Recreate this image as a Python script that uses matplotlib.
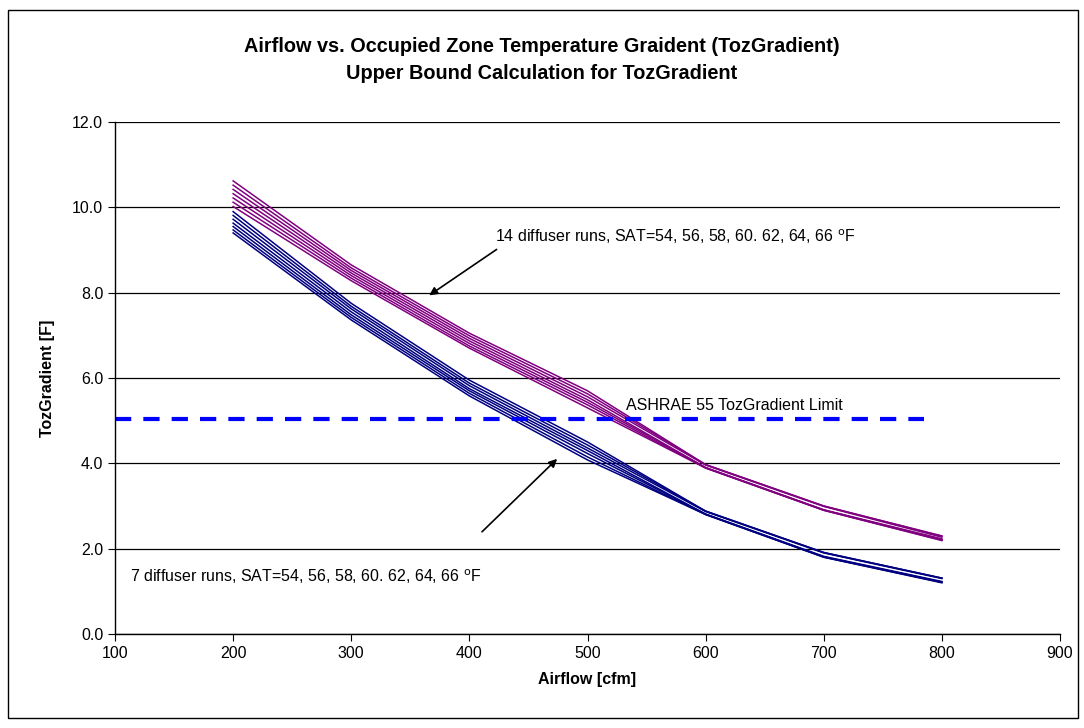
import matplotlib
matplotlib.use("Agg")
import matplotlib.pyplot as plt
from matplotlib.patches import Rectangle

plt.rcParams['font.family'] = ['Liberation Sans', 'DejaVu Sans']

airflow = [200, 300, 400, 500, 600, 700, 800]

# 14 diffuser runs (purple), 7 SAT values
purple_runs = [
    [10.62, 8.65, 7.05, 5.70, 3.97, 3.00, 2.30],
    [10.52, 8.58, 6.99, 5.63, 3.97, 3.00, 2.29],
    [10.42, 8.52, 6.93, 5.56, 3.96, 2.99, 2.27],
    [10.32, 8.46, 6.87, 5.49, 3.90, 2.91, 2.23],
    [10.22, 8.40, 6.81, 5.43, 3.90, 2.91, 2.21],
    [10.12, 8.34, 6.75, 5.37, 3.89, 2.90, 2.20],
    [10.02, 8.28, 6.70, 5.30, 3.89, 2.90, 2.19],
]
# 7 diffuser runs (navy), 7 SAT values
blue_runs = [
    [9.90, 7.75, 5.95, 4.50, 2.88, 1.91, 1.31],
    [9.81, 7.68, 5.88, 4.43, 2.88, 1.91, 1.31],
    [9.72, 7.62, 5.82, 4.36, 2.87, 1.90, 1.30],
    [9.63, 7.55, 5.75, 4.30, 2.81, 1.82, 1.23],
    [9.55, 7.48, 5.70, 4.23, 2.81, 1.81, 1.22],
    [9.47, 7.42, 5.64, 4.15, 2.80, 1.80, 1.21],
    [9.40, 7.36, 5.58, 4.08, 2.80, 1.80, 1.20],
]
limit_x = [100, 785]
limit_y = [5.05, 5.05]

x_ticks = [100, 200, 300, 400, 500, 600, 700, 800, 900]
y_ticks = [0, 2, 4, 6, 8, 10, 12]

fig = plt.figure(figsize=(10.84, 7.28), dpi=100)
fig.patches.append(Rectangle((8/1084, 1-718/728), 1070/1084, 708/728,
                             transform=fig.transFigure, fill=False,
                             edgecolor='black', linewidth=1.0))
ax = fig.add_axes([115/1084, 1-634/728, 945/1084, 512/728])

for run in purple_runs:
    ax.plot(airflow, run, color='#800080', linewidth=1.1)
for run in blue_runs:
    ax.plot(airflow, run, color='#000080', linewidth=1.1)
ax.plot(limit_x, limit_y, color='#0000FF', linewidth=3, linestyle=(0, (3.9, 2.9)))

ax.set_xlim(100, 900)
ax.set_ylim(0, 12)
ax.set_xticks(x_ticks)
ax.set_yticks(y_ticks)
ax.set_yticklabels([f"{v:.1f}" for v in y_ticks])
ax.tick_params(direction='out', length=5, labelsize=11.5, color='black')
ax.yaxis.grid(True, color='black', linewidth=0.9)
ax.set_axisbelow(True)
for s in ['top', 'right']:
    ax.spines[s].set_visible(False)
for s in ['left', 'bottom']:
    ax.spines[s].set_color('black')
    ax.spines[s].set_linewidth(1.0)

ax.set_xlabel('Airflow [cfm]', fontsize=11.5, fontweight='bold', labelpad=8)
ax.set_ylabel('TozGradient [F]', fontsize=11.5, fontweight='bold', labelpad=12)

fig.text(0.5, 1-60/728, 'Airflow vs. Occupied Zone Temperature Graident (TozGradient)\nUpper Bound Calculation for TozGradient',
         ha='center', va='center', fontsize=14.3, fontweight='bold', linespacing=1.55)

ax.text(422, 9.3, r'14 diffuser runs, SAT=54, 56, 58, 60. 62, 64, 66 $^{\mathrm{o}}$F',
        fontsize=11.5, va='center', ha='left')
ax.annotate('', xy=(364, 7.9), xytext=(425, 9.05),
            arrowprops=dict(arrowstyle='-|>', color='black', lw=1.2, mutation_scale=12))
ax.text(113, 1.34, r'7 diffuser runs, SAT=54, 56, 58, 60. 62, 64, 66 $^{\mathrm{o}}$F',
        fontsize=11.5, va='center', ha='left')
ax.annotate('', xy=(476, 4.15), xytext=(409, 2.35),
            arrowprops=dict(arrowstyle='-|>', color='black', lw=1.2, mutation_scale=12))
ax.text(533, 5.35, 'ASHRAE 55 TozGradient Limit', fontsize=11.5, va='center', ha='left')

fig.savefig('out.png', dpi=100)
